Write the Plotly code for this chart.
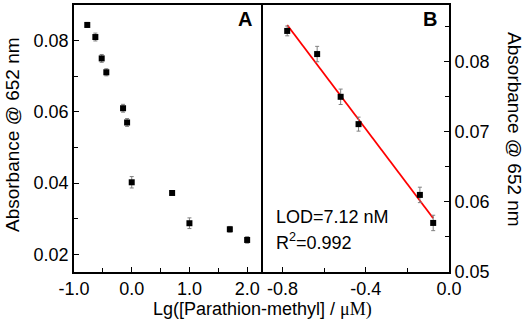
import numpy as np
import plotly.graph_objects as go

# Panel A data
a_x = [-0.77, -0.63, -0.52, -0.44, -0.15, -0.08, 0.0, 0.70, 1.0, 1.70, 2.0]
a_y = [0.0844, 0.0810, 0.0750, 0.0711, 0.0610, 0.0570, 0.0402, 0.0372, 0.0287, 0.0270, 0.0240]
a_err = [0.0007, 0.0011, 0.0011, 0.0010, 0.0011, 0.0011, 0.0016, 0.0004, 0.0015, 0.0008, 0.0009]

# Panel B data (linear range)
b_x = [-0.778, -0.634, -0.521, -0.435, -0.140, -0.076]
b_y = [0.0844, 0.0811, 0.0750, 0.0711, 0.0610, 0.0570]
b_err = [0.0007, 0.0011, 0.0011, 0.0010, 0.0011, 0.0011]

# tick labels
a_xticks = [-1.0, 0.0, 1.0, 2.0]
a_xtext = ["-1.0", "0.0", "1.0", "2.0"]
b_xticks = [-0.8, -0.4, 0.0]
b_xtext = ["-0.8", "-0.4", "0.0"]
a_yticks = [0.02, 0.04, 0.06, 0.08]
a_ytext = ["0.02", "0.04", "0.06", "0.08"]
b_yticks = [0.05, 0.06, 0.07, 0.08]
b_ytext = ["0.05", "0.06", "0.07", "0.08"]

slope, intercept = np.polyfit(b_x, b_y, 1)
fit_x = [min(b_x), max(b_x)]
fit_y = [slope * v + intercept for v in fit_x]

FONT = "Arial, Liberation Sans, Helvetica, sans-serif"
SERIF = "Liberation Serif, Times New Roman, serif"

fig = go.Figure()
fig.add_trace(go.Scatter(
    x=a_x, y=a_y, mode="markers", xaxis="x", yaxis="y",
    marker=dict(symbol="square", size=6, color="black"),
    error_y=dict(type="data", array=a_err, color="#808080", thickness=1, width=2),
    showlegend=False))
fig.add_trace(go.Scatter(
    x=fit_x, y=fit_y, mode="lines", xaxis="x2", yaxis="y2",
    line=dict(color="#ff0000", width=1.8), showlegend=False))
fig.add_trace(go.Scatter(
    x=b_x, y=b_y, mode="markers", xaxis="x2", yaxis="y2",
    marker=dict(symbol="square", size=6, color="black"),
    error_y=dict(type="data", array=b_err, color="#808080", thickness=1, width=2),
    showlegend=False))

split = (261 - 74) / 375.0
axis_common = dict(showline=True, linecolor="black", linewidth=1.6,
                   ticks="inside", ticklen=5, tickwidth=1.2, tickcolor="black",
                   showgrid=False, zeroline=False,
                   tickfont=dict(family=FONT, size=18, color="black"))

fig.update_layout(
    width=526, height=324,
    margin=dict(l=74, r=77, t=3, b=52),
    paper_bgcolor="white", plot_bgcolor="white",
    font=dict(family=FONT, color="black"),
    xaxis=dict(domain=[0, split], range=[-1.0, 2.24], tickmode="array",
               tickvals=a_xticks, ticktext=a_xtext, mirror=True,
               minor=dict(tickmode="linear", tick0=-0.5, dtick=1.0, ticks="inside", ticklen=4, tickcolor="black"),
               anchor="y", **axis_common),
    yaxis=dict(domain=[0, 1], range=[0.015, 0.09], tickmode="array",
               tickvals=a_yticks, ticktext=a_ytext, mirror=True,
               minor=dict(tickmode="linear", tick0=0.01, dtick=0.02, ticks="inside", ticklen=4, tickcolor="black"),
               anchor="x", **axis_common),
    xaxis2=dict(domain=[split, 1], range=[-0.904, 0.0], tickmode="array",
                tickvals=b_xticks, ticktext=b_xtext, mirror=True,
                minor=dict(tickmode="linear", tick0=-0.2, dtick=0.4, ticks="inside", ticklen=4, tickcolor="black"),
                anchor="y2", **axis_common),
    yaxis2=dict(domain=[0, 1], range=[0.05, 0.0881], side="right", tickmode="array",
                tickvals=b_yticks, ticktext=b_ytext, mirror=False,
                minor=dict(tickmode="linear", tick0=0.055, dtick=0.01, ticks="inside", ticklen=4, tickcolor="black"),
                anchor="x2", **axis_common),
)

def px(xp):
    return (xp - 74) / 375.0

def py(yp):
    return (272 - yp) / 269.0

def ann(x, y, text, size, angle=0, xanchor="center"):
    return dict(x=px(x), y=py(y), xref="paper", yref="paper", showarrow=False,
                xanchor=xanchor, yanchor="middle", textangle=angle, text=text,
                font=dict(family=FONT, size=size, color="black"))

annotations = [
    ann(262, 310, "Lg([Parathion-methyl] / <span style='font-family:" + SERIF + "'>\u03bcM)</span>", 18),
    ann(12, 134, "Absorbance @ 652 nm", 19, angle=-90),
    ann(515, 128, "Absorbance @ 652 nm", 19, angle=90),
    ann(245, 17, "<b>A</b>", 20),
    ann(430, 17, "<b>B</b>", 20),
    ann(274, 217, "LOD=7.12 nM", 18, xanchor="left"),
    ann(274, 241, "R<sup>2</sup>=0.992", 18, xanchor="left"),
]
fig.update_layout(annotations=annotations)

fig.write_html("out.html", config={"displayModeBar": False},
               post_script="document.body.style.margin='0';document.body.style.overflow='hidden';")
